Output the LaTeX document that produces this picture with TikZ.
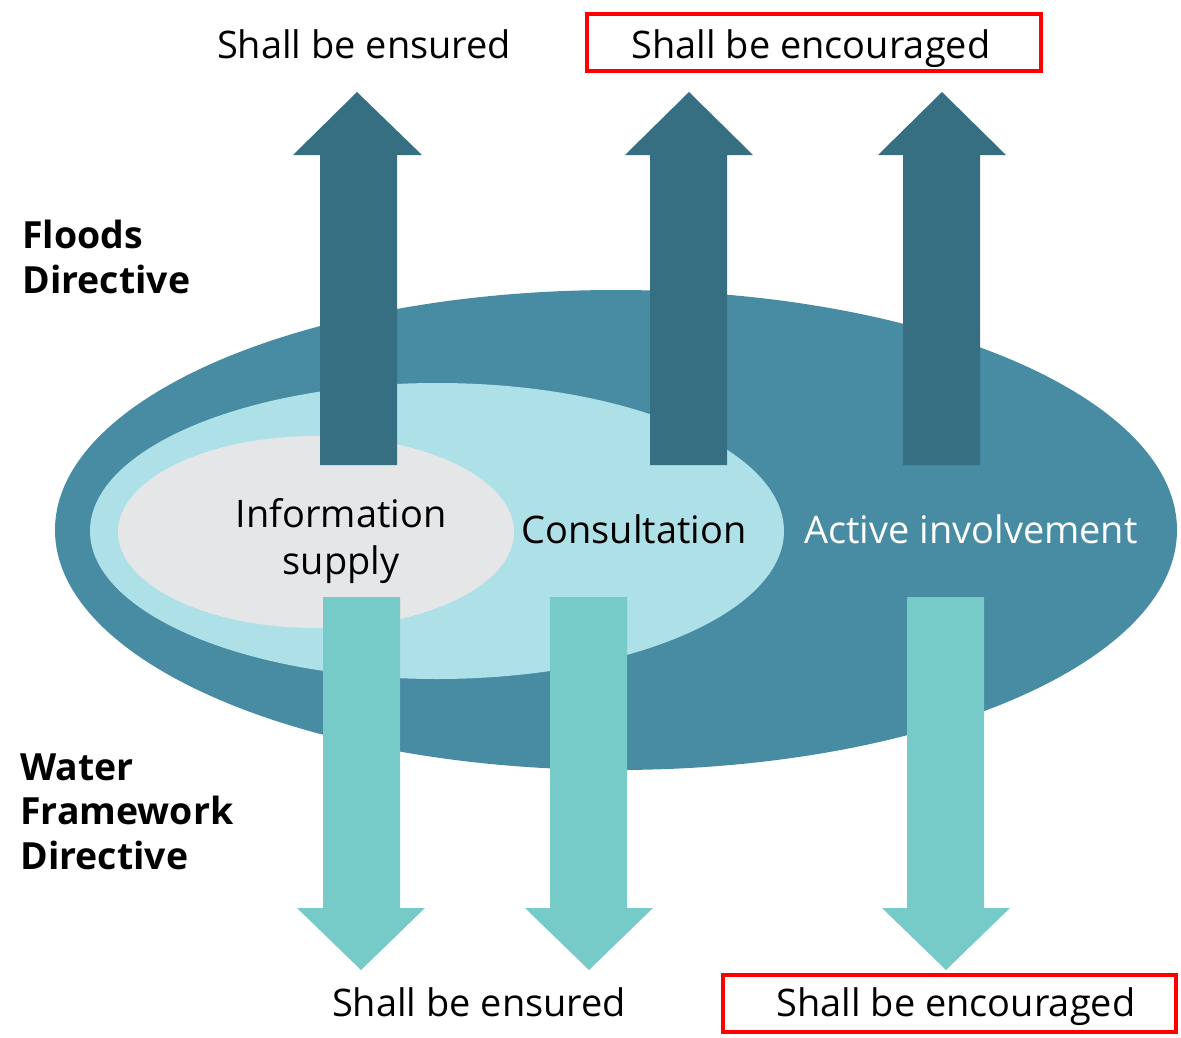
\documentclass[tikz,border=0pt]{standalone}
\usepackage{fontspec}
\setmainfont{Open Sans}
\definecolor{outerblue}{RGB}{72,140,163}
\definecolor{lightblue}{RGB}{174,224,231}
\definecolor{innergray}{RGB}{229,230,232}
\definecolor{uparrow}{RGB}{54,111,130}
\definecolor{downarrow}{RGB}{118,202,200}
\definecolor{boxred}{RGB}{255,0,0}
\tikzset{
	label text/.style = {font=\fontsize{21.6}{26.6}\selectfont, text=black, inner sep=0pt},
	directive/.style = {font=\fontsize{21.3}{25.5}\selectfont\bfseries, align=left, anchor=north west, inner sep=0pt},
	red box/.style = {draw=boxred, line width=2.8pt}
}
\begin{document}
\begin{tikzpicture}[x = {(0.02cm,0cm)},
	y = {(0cm,-0.02cm)}]
	\useasboundingbox (0,0) rectangle (1181,1038);
	
	% ellipses
	\fill[outerblue] (616,530) ellipse (561 and 240);
	\fill[lightblue] (437,531) ellipse (347 and 148);
	\fill[innergray] (316,532) ellipse (198 and 96);
	
	% upward arrows (Floods Directive)
	\fill[uparrow] (320,465) -- (320,155) -- (293,155) -- (357,92) -- (422,155) -- (397,155) -- (397,465) -- cycle;
	\fill[uparrow] (650,465) -- (650,155) -- (625,155) -- (689,92) -- (753,155) -- (727,155) -- (727,465) -- cycle;
	\fill[uparrow] (903,465) -- (903,155) -- (878,155) -- (942,92) -- (1006,155) -- (980,155) -- (980,465) -- cycle;
	
	% downward arrows (Water Framework Directive)
	\fill[downarrow] (323,597) -- (323,908) -- (297,908) -- (361,970) -- (425,908) -- (400,908) -- (400,597) -- cycle;
	\fill[downarrow] (550,597) -- (550,908) -- (525,908) -- (589,970) -- (653,908) -- (627,908) -- (627,597) -- cycle;
	\fill[downarrow] (907,597) -- (907,908) -- (882,908) -- (946,970) -- (1010,908) -- (984,908) -- (984,597) -- cycle;
	
	% levels
	\node[label text, align=center] (info) at (341,541) {Information\\supply};
	\node[label text] (consult) at (634,529) {Consultation};
	\node[label text, text=white] (active) at (971,529) {Active involvement};
	
	% directives
	\node[directive] (floods) at (22,220) {Floods\\Directive};
	\node[directive] (wfd) at (20,753) {Water\\Framework\\Directive};
	
	% obligations
	\node[label text, anchor=base] (topensured) at (364,58) {Shall be ensured};
	\node[label text, anchor=base] (topencouraged) at (811,58) {Shall be encouraged};
	\draw[red box] (587,14) rectangle (1041,71);
	\node[label text, anchor=base] (botensured) at (479,1016) {Shall be ensured};
	\node[label text, anchor=base] (botencouraged) at (956,1016) {Shall be encouraged};
	\draw[red box] (723,975) rectangle (1176,1032);
\end{tikzpicture}
\end{document}
